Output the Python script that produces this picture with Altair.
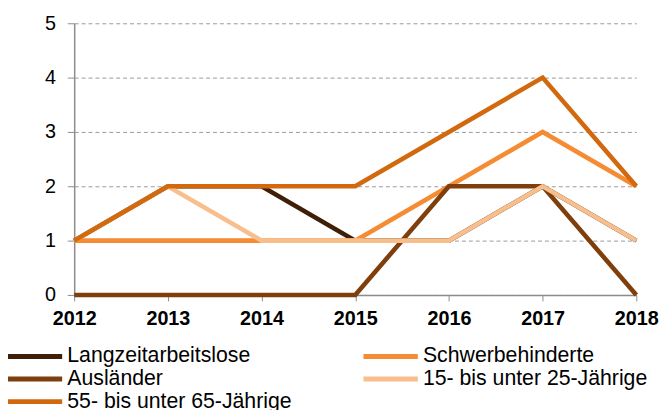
import altair as alt
import pandas as pd

years = ["2012", "2013", "2014", "2015", "2016", "2017", "2018"]
series = ["Langzeitarbeitslose", "Schwerbehinderte", "Ausländer",
          "15- bis unter 25-Jährige", "55- bis unter 65-Jährige"]
colors = ["#3f1f08", "#f58b33", "#7f3f0c", "#f8be8c", "#d2690e"]
langzeit = [1, 2, 2, 1, 1, 2, 1]
schwer = [1, 1, 1, 1, 2, 3, 2]
auslaender = [0, 0, 0, 0, 2, 2, 0]
jung = [1, 2, 1, 1, 1, 2, 1]
alt55 = [1, 2, 2, 2, 3, 4, 2]

values = [langzeit, schwer, auslaender, jung, alt55]
rows = []
for i, (s, vals) in enumerate(zip(series, values)):
    for y, v in zip(years, vals):
        rows.append({"Jahr": y, "Wert": v, "Gruppe": s, "ord": i})
df = pd.DataFrame(rows)

FONT = "Liberation Sans"

chart = alt.Chart(df).mark_line(strokeWidth=4.6, strokeCap="butt", strokeJoin="miter").encode(
    x=alt.X("Jahr:O", sort=years, title=None,
            scale=alt.Scale(type="point", padding=0),
            axis=alt.Axis(labelAngle=0, labelFont=FONT, labelFontSize=20, labelFontWeight="bold",
                          labelColor="#000", domainColor="#8c8c8c", domainWidth=1.5,
                          tickColor="#8c8c8c", tickSize=6, labelPadding=8, grid=False)),
    y=alt.Y("Wert:Q", title=None, scale=alt.Scale(domain=[0, 5], nice=False),
            axis=alt.Axis(values=[0, 1, 2, 3, 4, 5], format="d", labelFont=FONT, labelFontSize=20,
                          labelColor="#000", domainColor="#8c8c8c", domainWidth=1.5,
                          tickColor="#8c8c8c", tickSize=7, labelPadding=12,
                          grid=True, gridColor="#9a9a9a", gridDash=[4, 3], gridWidth=1)),
    color=alt.Color("Gruppe:N", sort=series,
                    scale=alt.Scale(domain=series, range=colors),
                    legend=alt.Legend(title=None, orient="none", legendX=-70, legendY=325,
                                      direction="horizontal",
                                      columns=2, columnPadding=61, rowPadding=0,
                                      symbolType="M-3,0H3", symbolSize=336, symbolStrokeWidth=5,
                                      symbolOffset=18.33,
                                      labelFont=FONT, labelFontSize=21.5, labelColor="#000",
                                      labelOffset=20.7, labelLimit=400, gridAlign="each")),
    order=alt.Order("ord:Q"),
).properties(
    width=569, height=275,
    padding={"left": 67, "top": 13, "right": 26, "bottom": 114},
    autosize=alt.AutoSizeParams(type="none"),
).configure_view(stroke=None)

chart.save("out.html", embed_options={"renderer": "svg", "actions": False})
